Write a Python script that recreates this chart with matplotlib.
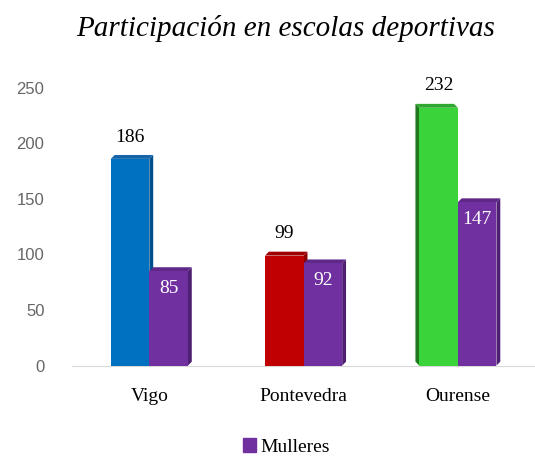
import numpy as np
import matplotlib.pyplot as plt
from matplotlib.patches import Polygon, Patch

cities = ['Vigo', 'Pontevedra', 'Ourense']
total = [186, 99, 232]
mulleres = [85, 92, 147]
front_colors = ['#0070C0', '#C00000', '#3AD33A']
side_colors = ['#00508C', '#8C0000', '#1F7A1F']
top_colors = ['#1565A8', '#A00000', '#2EA82E']
purple = '#7030A0'
purple_side = '#4E1F72'
purple_top = '#5E2788'

serif = ['Liberation Serif', 'DejaVu Serif']
sans = ['Liberation Sans', 'DejaVu Sans']

fig = plt.figure(figsize=(5.35, 4.57), dpi=100)
ax = fig.add_axes([0.135, 0.2, 0.865, 0.608])

x = np.arange(len(cities))
w = 0.25
dx, dy = 0.025, 3.5


def bar3d(xc, h, front, side, top, left=False):
    x0, x1 = xc - w / 2, xc + w / 2
    if left:
        ax.add_patch(Polygon([(x0, 0), (x0 - dx, dy), (x0 - dx, h + dy), (x0, h)],
                             closed=True, fc=side, ec='none', zorder=2))
        ax.add_patch(Polygon([(x0, h), (x0 - dx, h + dy), (x1 - dx, h + dy), (x1, h)],
                             closed=True, fc=top, ec='none', zorder=2))
    else:
        ax.add_patch(Polygon([(x1, 0), (x1 + dx, dy), (x1 + dx, h + dy), (x1, h)],
                             closed=True, fc=side, ec='none', zorder=2))
        ax.add_patch(Polygon([(x0, h), (x0 + dx, h + dy), (x1 + dx, h + dy), (x1, h)],
                             closed=True, fc=top, ec='none', zorder=2))
    ax.bar(xc, h, width=w, color=front, zorder=3)


for i in range(len(cities)):
    bar3d(x[i] - w / 2, total[i], front_colors[i], side_colors[i], top_colors[i],
          left=(i == 2))
    bar3d(x[i] + w / 2, mulleres[i], purple, purple_side, purple_top)
    ax.text(x[i] - w / 2, total[i] + 12, str(total[i]), ha='center', va='bottom',
            fontsize=14, family=serif, color='black')
    ax.text(x[i] + w / 2, mulleres[i] - 8, str(mulleres[i]), ha='center', va='top',
            fontsize=14, family=serif, color='white', zorder=5)

ax.set_xlim(-0.5, 2.5)
ax.set_ylim(0, 250)
ax.set_yticks(range(0, 251, 50))
ax.set_xticks(x)
ax.set_xticklabels(cities, fontsize=14, family=serif)
ax.tick_params(axis='y', labelsize=12, labelcolor='#666666', length=0, pad=20)
ax.tick_params(axis='x', length=0, pad=16)
for s in ['top', 'right', 'left']:
    ax.spines[s].set_visible(False)
ax.spines['bottom'].set_color('#D9D9D9')
for lbl in ax.get_yticklabels():
    lbl.set_family(sans)

fig.text(0.533, 0.937, 'Participación en escolas deportivas', ha='center', va='center',
         fontsize=21, family=serif, style='italic')

fig.legend(handles=[Patch(color=purple, label='Mulleres')], loc='center',
           bbox_to_anchor=(0.535, 0.022), frameon=False, handlelength=0.7,
           handleheight=0.7, handletextpad=0.2, prop={'family': serif, 'size': 14})

fig.savefig('out.png', dpi=100)
